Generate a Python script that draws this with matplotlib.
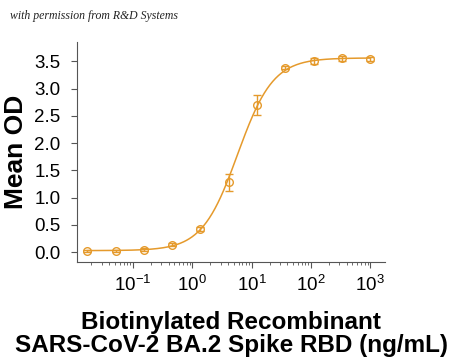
import numpy as np
import matplotlib
matplotlib.use("Agg")
import matplotlib.pyplot as plt
from matplotlib.ticker import LogLocator, NullFormatter

conc = [0.0169, 0.0508, 0.152, 0.457, 1.37, 4.12, 12.3, 37.0, 111.0, 333.0, 1000.0]
mean_od = [0.02, 0.03, 0.05, 0.14, 0.43, 1.28, 2.70, 3.38, 3.50, 3.55, 3.54]
sd_od = [0.02, 0.02, 0.02, 0.03, 0.04, 0.16, 0.18, 0.03, 0.05, 0.04, 0.04]

# 4PL fit parameters
fit_bottom, fit_top, fit_ec50, fit_hill = 0.03, 3.56, 5.8, 1.45

color = "#E59A2C"
plt.rcParams['font.family'] = ['Liberation Sans', 'DejaVu Sans']

fig = plt.figure(figsize=(4.5, 3.6), dpi=100)
ax = fig.add_axes([0.171, 0.272, 0.685, 0.611])

xs = np.logspace(np.log10(conc[0]), np.log10(conc[-1]), 300)
ys = fit_bottom + (fit_top - fit_bottom) / (1 + (fit_ec50 / xs) ** fit_hill)
ax.plot(xs, ys, color=color, lw=1.1)
ax.errorbar(conc, mean_od, yerr=sd_od, fmt='o', mfc='none', mec=color, ms=5.5,
            mew=1.0, ecolor=color, elinewidth=1.0, capsize=3, capthick=1.0)

ax.set_xscale('log')
ax.set_xlim(10 ** -1.944, 10 ** 3.25)
ax.set_ylim(-0.18, 3.85)
ax.set_yticks([0.0, 0.5, 1.0, 1.5, 2.0, 2.5, 3.0, 3.5])
ax.set_yticklabels(['0.0', '0.5', '1.0', '1.5', '2.0', '2.5', '3.0', '3.5'])
ax.set_xticks([0.1, 1, 10, 100, 1000])
ax.xaxis.set_minor_locator(LogLocator(base=10, subs=np.arange(2, 10), numticks=20))
ax.xaxis.set_minor_formatter(NullFormatter())
ax.tick_params(axis='both', which='major', labelsize=13.5, color='#555555', length=4, width=0.8)
ax.tick_params(axis='y', pad=8)
ax.tick_params(axis='x', pad=5)
ax.tick_params(axis='x', which='minor', length=2, color='#555555', width=0.6)
for s in ['top', 'right']:
    ax.spines[s].set_visible(False)
for s in ['left', 'bottom']:
    ax.spines[s].set_color('#555555')
    ax.spines[s].set_linewidth(0.8)

ax.set_ylabel('Mean OD', fontsize=19, fontweight='bold', labelpad=4)
ax.set_xlabel('Biotinylated Recombinant\nSARS-CoV-2 BA.2 Spike RBD (ng/mL)',
              fontsize=17.5, fontweight='bold', labelpad=12, linespacing=1.0)

fig.text(0.022, 0.948, 'with permission from R&D Systems', fontsize=8.5,
         style='italic', family=['Liberation Serif'], color='#222222')

fig.savefig('out.png', dpi=100)
